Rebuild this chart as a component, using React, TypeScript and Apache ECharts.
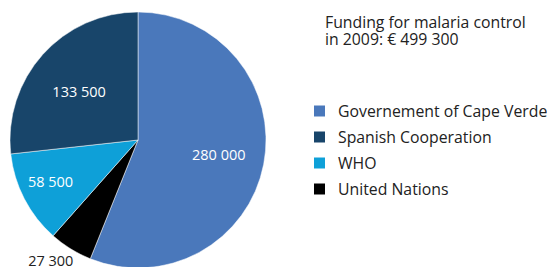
import React, { useEffect, useRef } from "react";
import * as echarts from "echarts";

const categories = [
  "Governement of Cape Verde",
  "United Nations",
  "WHO",
  "Spanish Cooperation",
];
const values = [280000, 27300, 58500, 133500];
const legendOrder = [
  "Governement of Cape Verde",
  "Spanish Cooperation",
  "WHO",
  "United Nations",
];
const titleLines = ["Funding for malaria control", "in 2009: € 499 300"];

const colors = ["#4a78bb", "#000000", "#0ea0d8", "#18456a"];
const labelColors = ["#ffffff", "#222222", "#ffffff", "#ffffff"];
const labelShift: Record<number, [number, number]> = {
  0: [15, 2],
  1: [-52, 64],
  2: [-28, 11],
  3: [-9, -4],
};
const FONT = "'Open Sans', 'Noto Sans', sans-serif";

const fmt = (v: number) => {
  const s = String(v);
  return s.replace(/\B(?=(\d{3})+(?!\d))/g, " ");
};

export default function App() {
  const ref = useRef<HTMLDivElement>(null);
  useEffect(() => {
    if (!ref.current) return;
    const chart = echarts.init(ref.current, null, { renderer: "svg" });
    chart.setOption({
      animation: false,
      graphic: titleLines.map((line, i) => ({
        type: "text",
        left: 325,
        top: 13 + i * 17,
        silent: true,
        style: {
          text: line,
          fontFamily: FONT,
          fontSize: 15.8,
          lineHeight: 17,
          fill: "#222222",
        },
      })),
      legend: {
        orient: "vertical",
        left: 312,
        top: 103,
        padding: 0,
        itemWidth: 13,
        itemHeight: 13,
        itemGap: 10,
        icon: "rect",
        data: legendOrder,
        selectedMode: false,
        textStyle: {
          fontFamily: FONT,
          fontSize: 15.8,
          color: "#222222",
          padding: [0, 0, 0, 7],
        },
      },
      series: [
        {
          type: "pie",
          center: [138, 140],
          radius: 128,
          startAngle: 90,
          clockwise: true,
          silent: true,
          itemStyle: { borderColor: "#ffffff", borderWidth: 0.5 },
          label: {
            show: true,
            position: "inside",
            fontFamily: FONT,
            fontSize: 14.5,
            formatter: (p: any) => fmt(p.value),
          },
          labelLine: { show: false },
          labelLayout: (p: any) => {
            const s = labelShift[p.dataIndex] || [0, 0];
            return { dx: s[0], dy: s[1] };
          },
          data: categories.map((name, i) => ({
            name,
            value: values[i],
            itemStyle: { color: colors[i] },
            label: { color: labelColors[i] },
          })),
        },
      ],
    });
    return () => chart.dispose();
  }, []);
  return <div ref={ref} style={{ width: 547, height: 267, position: "absolute", left: 0, top: 0 }} />;
}
